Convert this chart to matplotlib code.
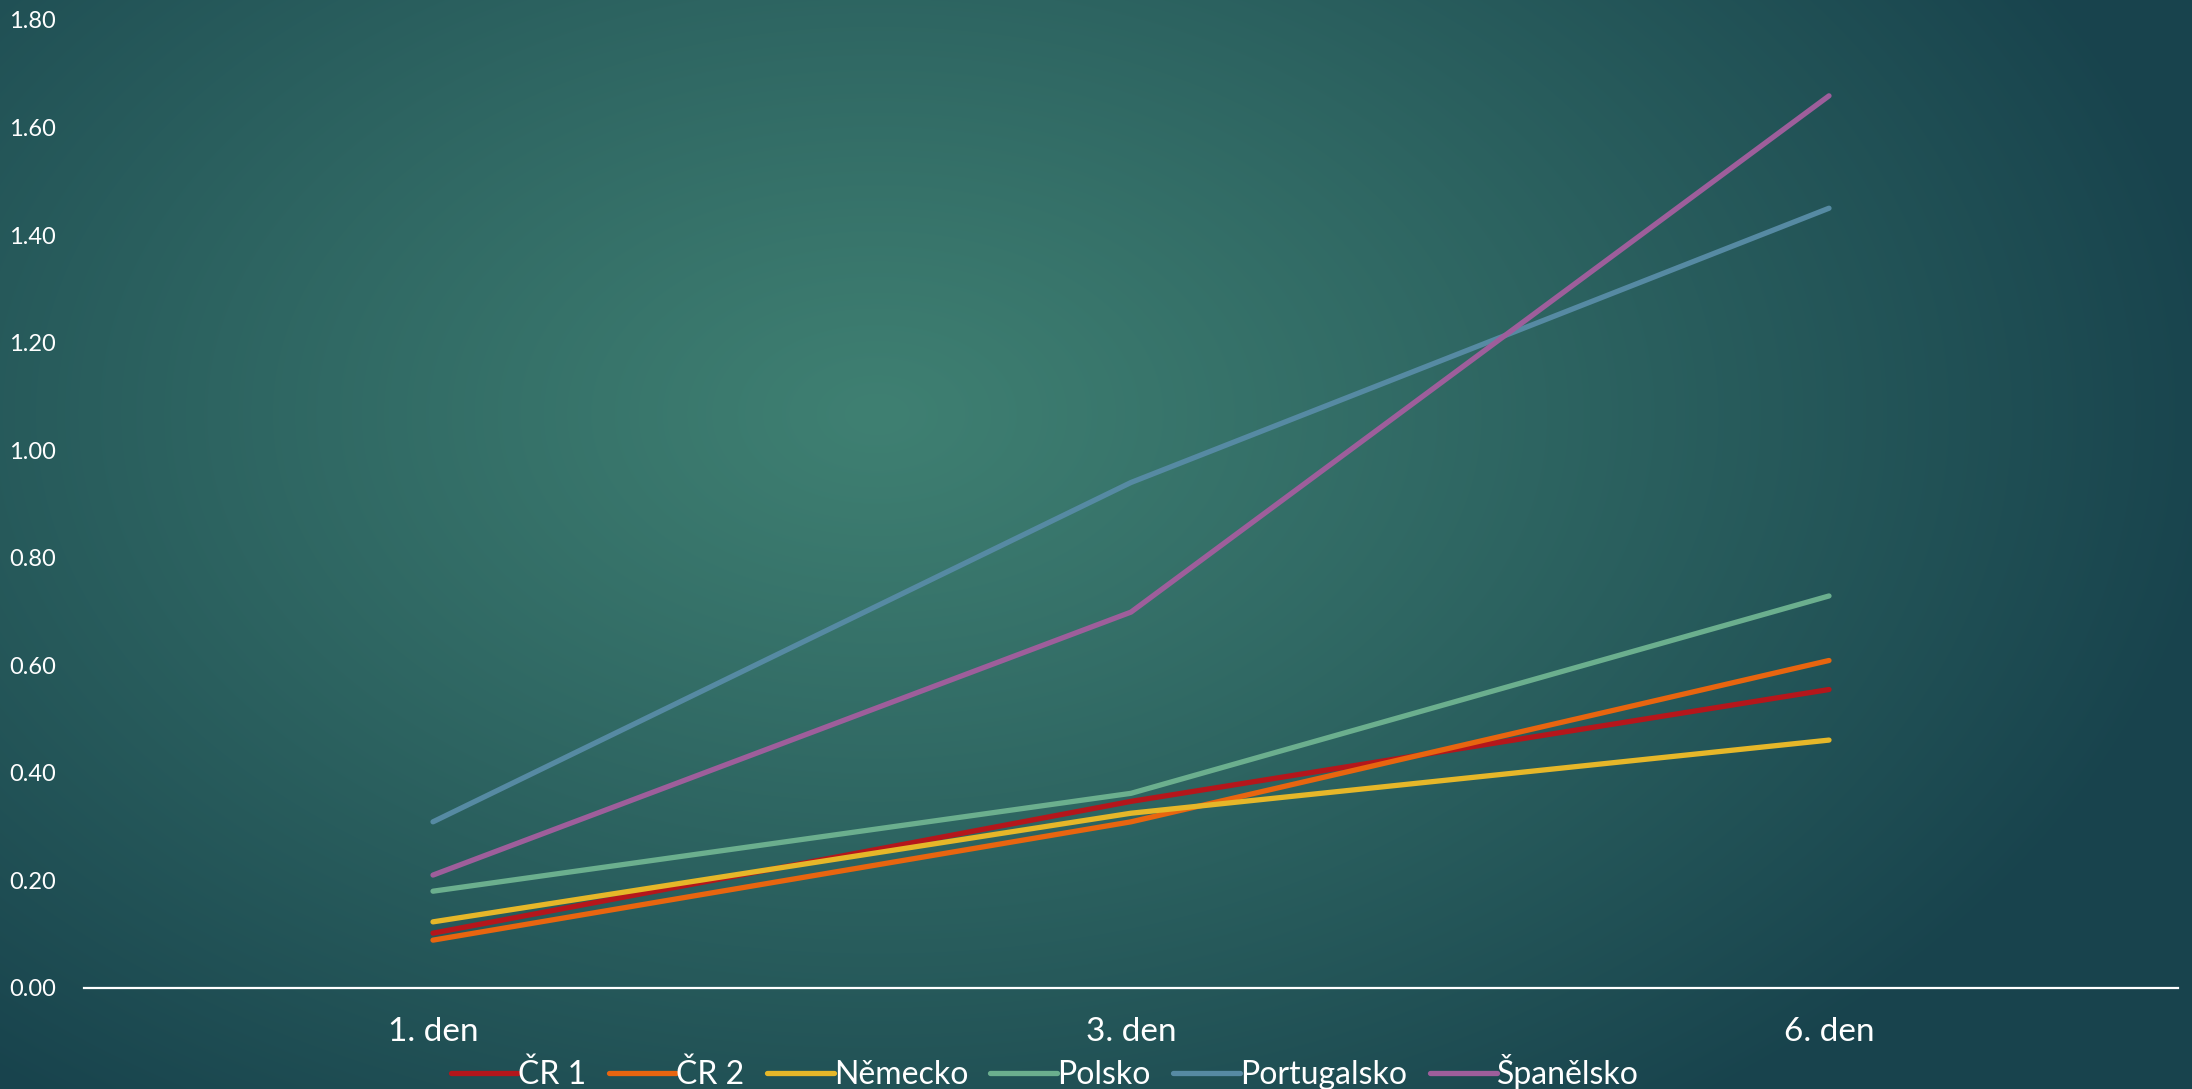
import numpy as np
import matplotlib
matplotlib.use("Agg")
import matplotlib.pyplot as plt
from matplotlib.colors import to_rgb

categories = ["1. den", "3. den", "6. den"]
series_names = ["ČR 1", "ČR 2", "Německo", "Polsko", "Portugalsko", "Španělsko"]
cr1 = [0.102, 0.347, 0.555]
cr2 = [0.089, 0.309, 0.609]
nemecko = [0.123, 0.325, 0.461]
polsko = [0.180, 0.362, 0.729]
portugalsko = [0.309, 0.940, 1.450]
spanelsko = [0.210, 0.699, 1.659]
yticks = [0.0, 0.2, 0.4, 0.6, 0.8, 1.0, 1.2, 1.4, 1.6, 1.8]

colors = ["#B5161B", "#E8650F", "#E6B729", "#6BAF8E", "#568AA3", "#9E5E9B"]
values = [cr1, cr2, nemecko, polsko, portugalsko, spanelsko]

plt.rcParams['font.family'] = ['Lato', 'DejaVu Sans']
plt.rcParams['font.weight'] = 'normal'

W, H = 2192, 1089
fig = plt.figure(figsize=(W / 100, H / 100), dpi=100)

# background radial gradient
bg = fig.add_axes([0, 0, 1, 1])
bg.set_axis_off()
yy, xx = np.mgrid[0:H, 0:W]
cx, cy = 0.40 * W, 0.38 * H
d = np.sqrt(((xx - cx) / (0.62 * W)) ** 2 + ((yy - cy) / (0.80 * H)) ** 2)
d = np.clip(d, 0, 1) ** 1.1
c0 = np.array(to_rgb("#3F8072"))
c1 = np.array(to_rgb("#18434D"))
img = c0[None, None, :] * (1 - d[..., None]) + c1[None, None, :] * d[..., None]
bg.imshow(img, aspect="auto", extent=[0, 1, 0, 1], origin="upper")
bg.set_xlim(0, 1)
bg.set_ylim(0, 1)

ax = fig.add_axes([84 / W, 1 - 988 / H, (2178 - 84) / W, (988 - 20) / H])
ax.patch.set_alpha(0)
x = np.arange(len(categories))
for name, vals, col in zip(series_names, values, colors):
    ax.plot(x, vals, color=col, lw=3.8, solid_capstyle="round", label=name)

ax.set_xlim(-0.5, len(categories) - 0.5)
ax.set_ylim(0, 1.8)
ax.set_xticks(x)
ax.set_xticklabels(categories, fontsize=24, color="white")
ax.set_yticks(yticks)
ax.set_yticklabels([f"{v:.2f}" for v in yticks], fontsize=17, color="white")
ax.tick_params(axis="both", length=0)
ax.tick_params(axis="y", pad=20)
ax.tick_params(axis="x", pad=21)
for s in ["top", "right", "left"]:
    ax.spines[s].set_visible(False)
ax.spines["bottom"].set_color("white")
ax.spines["bottom"].set_linewidth(1.6)

leg = fig.legend(loc="center", bbox_to_anchor=(1045 / W, 1 - 1072 / H), ncol=6,
                 frameon=False, fontsize=23, handlelength=2.1, handletextpad=0.0,
                 columnspacing=0.7, labelcolor="white")
for h in leg.get_lines():
    h.set_linewidth(3.8)
    h.set_solid_capstyle("round")

fig.savefig("out.png", dpi=100)
